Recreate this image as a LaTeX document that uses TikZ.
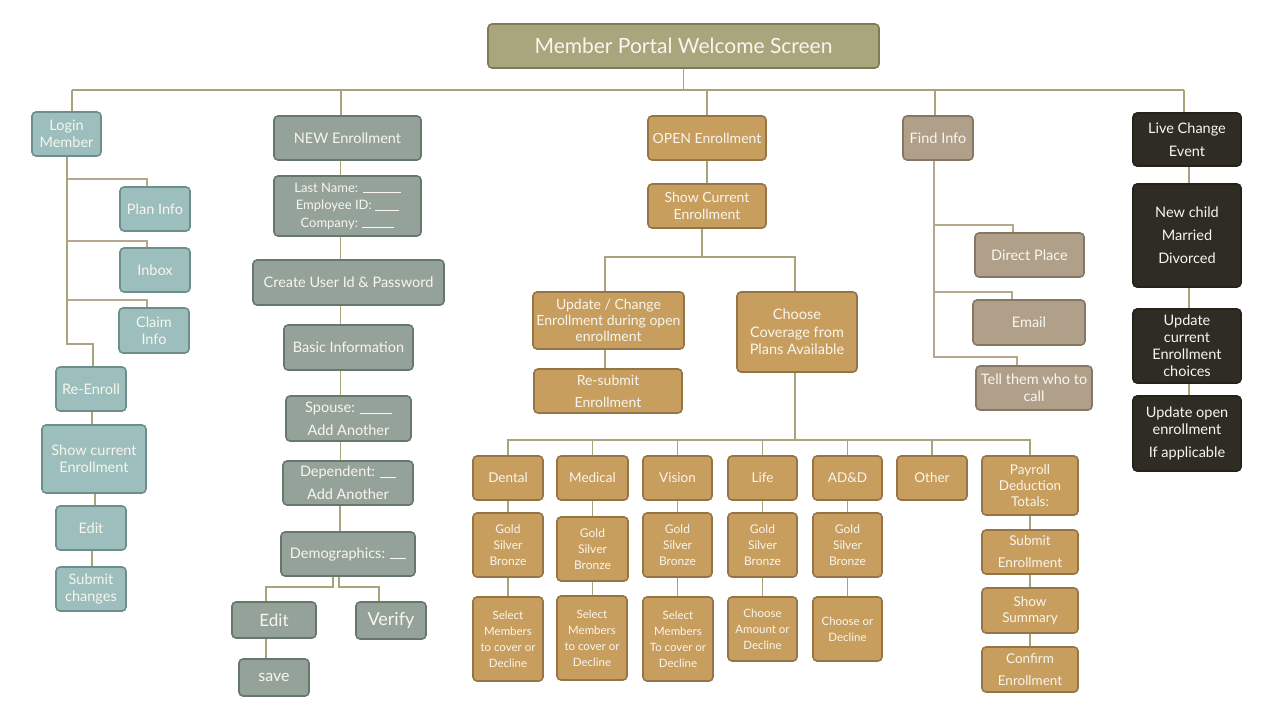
\documentclass[tikz,border=0pt]{standalone}
\usepackage{fontspec}
\setmainfont{Lato}
\definecolor{tealF}{HTML}{9CBEBC}\definecolor{tealD}{HTML}{6E8E8B}
\definecolor{sageF}{HTML}{94A299}\definecolor{sageD}{HTML}{68776E}
\definecolor{goldF}{HTML}{C89E5E}\definecolor{goldD}{HTML}{957547}
\definecolor{taupeF}{HTML}{B0A08A}\definecolor{taupeD}{HTML}{857763}
\definecolor{darkF}{HTML}{2F2C23}\definecolor{darkD}{HTML}{24221A}
\definecolor{oliveF}{HTML}{A9A57C}\definecolor{oliveD}{HTML}{7F7B58}
\definecolor{lineC}{HTML}{A9A37B}\definecolor{branchC}{HTML}{B6A88C}
\definecolor{txtC}{HTML}{F8F6EE}
\newcommand\fs[2]{\fontsize{#1}{#2}\selectfont}
\newcommand\blank[1]{\rule[-1.2pt]{#1}{0.8pt}}
\newcommand\bx[7]{\node[#1, minimum width={(#5-#3)*1pt}, minimum height={(#6-#4)*1pt}] (#2) at ({(#3+#5)/2},{(#4+#6)/2}) {#7};}
\tikzset{
  boxbase/.style={rounded corners=4pt, line width=1.6pt, align=center, text=txtC, inner sep=1pt, font=\fs{14.5}{17}},
  tealbox/.style={boxbase, fill=tealF, draw=tealD},
  sagebox/.style={boxbase, fill=sageF, draw=sageD},
  goldbox/.style={boxbase, fill=goldF, draw=goldD},
  taupebox/.style={boxbase, fill=taupeF, draw=taupeD},
  darkbox/.style={boxbase, fill=darkF, draw=darkD},
  titlebox/.style={boxbase, fill=oliveF, draw=oliveD, font=\fs{21}{24}},
  conn/.style={draw=lineC, line width=1.6pt},
  branch/.style={draw=branchC, line width=1.6pt},
}
\begin{document}
\begin{tikzpicture}[x=1pt,y=-1pt]
\useasboundingbox[fill=white] (0,0) rectangle (1280,720);
% title
\bx{titlebox}{title}{488}{24}{879}{68}{Member Portal Welcome Screen}
% login column
\bx{tealbox}{login}{32}{112}{101}{156}{Login\\Member}
\bx{tealbox}{planinfo}{120}{187}{190}{231}{Plan Info}
\bx{tealbox}{inbox}{120}{248}{190}{292}{Inbox}
\bx{tealbox}{claim}{119}{308}{189}{353}{Claim\\Info}
\bx{tealbox}{reenroll}{56}{367}{126}{411}{Re-Enroll}
\bx{tealbox}{showcur}{42}{425}{146}{493}{Show current\\Enrollment}
\bx{tealbox}{ledit}{56}{506}{126}{550}{Edit}
\bx{tealbox}{submitch}{56}{567}{126}{611}{Submit\\changes}
% new enrollment column
\bx{sagebox}{newenr}{274}{116}{421}{160}{NEW Enrollment}
\bx{sagebox,font=\fs{13}{17.5}}{lastname}{274}{176}{421}{236}{Last Name: \blank{38pt}\\Employee ID: \blank{24pt}\\Company: \blank{32pt}}
\bx{sagebox}{createuser}{253}{260}{444}{305}{Create User Id \& Password}
\bx{sagebox}{basic}{284}{325}{413}{370}{Basic Information}
\bx{sagebox}{spouse}{286}{396}{411}{441}{Spouse: \blank{32pt}\\[6pt]Add Another}
\bx{sagebox}{dependent}{283}{461}{413}{505}{Dependent: \blank{16pt}\\[6pt]Add Another}
\bx{sagebox}{demo}{281}{532}{415}{576}{Demographics: \blank{16pt}}
\bx{sagebox,font=\fs{17}{20}}{nedit}{232}{602}{316}{638}{Edit}
\bx{sagebox,font=\fs{18}{20}}{verify}{356}{602}{426}{639}{Verify}
\bx{sagebox,font=\fs{16}{19}}{save}{239}{659}{309}{696}{save}
% open enrollment
\bx{goldbox,font=\fs{14}{17}}{open}{648}{116}{766}{160}{OPEN Enrollment}
\bx{goldbox,font=\fs{14}{17}}{showce}{648}{184}{766}{228}{Show Current\\Enrollment}
\bx{goldbox,font=\fs{14}{16}}{update}{533}{292}{684}{349}{Update / Change\\Enrollment during open\\enrollment}
\bx{goldbox,font=\fs{14}{16}}{resubmit}{534}{369}{682}{413}{Re-submit\\[6pt]Enrollment}
\bx{goldbox,font=\fs{14.5}{17.5}}{choose}{737}{292}{857}{372}{Choose\\Coverage from\\Plans Available}
% products
\bx{goldbox,font=\fs{13.5}{16}}{dental}{473}{456}{543}{500}{Dental}
\bx{goldbox,font=\fs{13.5}{16}}{medical}{557}{456}{628}{500}{Medical}
\bx{goldbox,font=\fs{13.5}{16}}{vision}{643}{456}{712}{500}{Vision}
\bx{goldbox,font=\fs{13.5}{16}}{life}{728}{456}{797}{500}{Life}
\bx{goldbox,font=\fs{13.5}{16}}{add}{813}{456}{882}{500}{AD\&D}
\bx{goldbox,font=\fs{13.5}{16}}{other}{897}{456}{967}{500}{Other}
\bx{goldbox,font=\fs{13.5}{16}}{payroll}{982}{456}{1078}{515}{Payroll\\Deduction\\Totals:}
\bx{goldbox,font=\fs{13.5}{16}}{submitenr}{982}{530}{1078}{574}{Submit\\[6pt]Enrollment}
\bx{goldbox,font=\fs{13.5}{16}}{showsum}{982}{588}{1078}{633}{Show\\Summary}
\bx{goldbox,font=\fs{13.5}{16}}{confirm}{982}{647}{1078}{692}{Confirm\\[6pt]Enrollment}
\bx{goldbox,font=\fs{12}{16}}{dgold}{473}{513}{543}{577}{Gold\\Silver\\Bronze}
\bx{goldbox,font=\fs{12}{16}}{mgold}{557}{517}{628}{581}{Gold\\Silver\\Bronze}
\bx{goldbox,font=\fs{12}{16}}{vgold}{643}{513}{712}{577}{Gold\\Silver\\Bronze}
\bx{goldbox,font=\fs{12}{16}}{lgold}{728}{513}{797}{577}{Gold\\Silver\\Bronze}
\bx{goldbox,font=\fs{12}{16}}{agold}{813}{513}{882}{577}{Gold\\Silver\\Bronze}
\bx{goldbox,font=\fs{11.5}{16}}{dsel}{473}{597}{543}{681}{Select\\Members\\to cover or\\Decline}
\bx{goldbox,font=\fs{11.5}{16}}{msel}{557}{596}{627}{680}{Select\\Members\\to cover or\\Decline}
\bx{goldbox,font=\fs{11.5}{16}}{vsel}{643}{597}{713}{681}{Select\\Members\\To cover or\\Decline}
\bx{goldbox,font=\fs{11.5}{16}}{lch}{728}{597}{797}{661}{Choose\\Amount or\\Decline}
\bx{goldbox,font=\fs{11.5}{16}}{ach}{813}{597}{882}{661}{Choose or\\Decline}
% find info
\bx{taupebox}{find}{903}{116}{973}{160}{Find Info}
\bx{taupebox}{direct}{975}{233}{1084}{277}{Direct Place}
\bx{taupebox}{email}{973}{300}{1085}{345}{Email}
\bx{taupebox}{tell}{976}{366}{1092}{410}{Tell them who to\\call}
% live change
\bx{darkbox}{live}{1133}{113}{1241}{166}{Live Change\\[6pt]Event}
\bx{darkbox}{newchild}{1133}{184}{1241}{287}{New child\\[6pt]Married\\[6pt]Divorced}
\bx{darkbox}{updcur}{1133}{309}{1241}{383}{Update\\current\\Enrollment\\choices}
\bx{darkbox}{updopen}{1133}{396}{1241}{471}{Update open\\enrollment\\[6pt]If applicable}
% ---------- connectors ----------
\coordinate (bus) at (0,90);
\draw[conn] (title.south) -- (title.south |- bus);
\draw[conn] ([xshift=5.5pt]login.north |- bus) -- ([xshift=-3pt]live.north |- bus);
\draw[conn] ([xshift=5.5pt]login.north) -- ([xshift=5.5pt]login.north |- bus);
\draw[conn] ([xshift=-6.5pt]newenr.north) -- ([xshift=-6.5pt]newenr.north |- bus);
\draw[conn] (open.north) -- (open.north |- bus);
\draw[conn] ([xshift=-3pt]find.north) -- ([xshift=-3pt]find.north |- bus);
\draw[conn] ([xshift=-3pt]live.north) -- ([xshift=-3pt]live.north |- bus);
% login column
\draw[branch] ([xshift=0.5pt]login.south |- 0,179) -| ([xshift=-8pt]planinfo.north);
\draw[branch] ([xshift=0.5pt]login.south |- 0,241) -| ([xshift=-8pt]inbox.north);
\draw[branch] ([xshift=0.5pt]login.south |- 0,300) -| ([xshift=-7pt]claim.north);
\draw[conn] ([xshift=0.5pt]login.south) -- ([xshift=0.5pt]login.south |- 0,344) -| ([xshift=2pt]reenroll.north);
\draw[conn] ([xshift=1pt]reenroll.south) -- ([xshift=1pt]reenroll.south |- showcur.north);
\draw[conn] ([xshift=1pt]showcur.south) -- ([xshift=1pt]showcur.south |- ledit.north);
\draw[conn] ([xshift=1pt]ledit.south) -- ([xshift=1pt]ledit.south |- submitch.north);
% new enrollment column
\draw[conn] ([xshift=-7pt]newenr.south) -- ([xshift=-7pt]newenr.south |- lastname.north);
\draw[conn] ([xshift=-7pt]lastname.south) -- ([xshift=-7pt]lastname.south |- createuser.north);
\draw[conn] ([xshift=-8pt]createuser.south) -- ([xshift=-8pt]createuser.south |- basic.north);
\draw[conn] ([xshift=-8pt]basic.south) -- ([xshift=-8pt]basic.south |- spouse.north);
\draw[conn] ([xshift=-8pt]spouse.south) -- ([xshift=-8pt]spouse.south |- dependent.north);
\draw[conn] ([xshift=-8pt]dependent.south) -- ([xshift=-8pt]dependent.south |- demo.north);
\draw[conn] ([xshift=-15pt]demo.south) -- ([xshift=-15pt]demo.south |- 0,587) -| ([xshift=-8pt]nedit.north);
\draw[conn] ([xshift=-9pt]demo.south) -- ([xshift=-9pt]demo.south |- 0,587) -| ([xshift=-12pt]verify.north);
\draw[conn] ([xshift=-8pt]nedit.south) -- ([xshift=-8pt]nedit.south |- save.north);
% open enrollment
\draw[conn] (open.south) -- (open.south |- showce.north);
\draw[conn] ([xshift=-5pt]showce.south) -- ([xshift=-5pt]showce.south |- 0,257) coordinate (ob);
\draw[conn] ([xshift=-3.5pt]update.north) -- ([xshift=-3.5pt]update.north |- ob) -| ([xshift=-2pt]choose.north);
\draw[conn] ([xshift=-3.5pt]update.south) -- ([xshift=-3.5pt]update.south |- resubmit.north);
\draw[conn] ([xshift=-2pt]choose.south) -- ([xshift=-2pt]choose.south |- 0,440) coordinate (pb);
\draw[conn] (dental.north) -- (dental.north |- pb) -| (payroll.north);
\foreach \n in {medical,vision,life,add,other}{\draw[conn] (\n.north) -- (\n.north |- pb);}
\foreach \a/\b in {dental/dgold,medical/mgold,vision/vgold,life/lgold,add/agold,dgold/dsel,mgold/msel,vgold/vsel,lgold/lch,agold/ach,payroll/submitenr,submitenr/showsum,showsum/confirm}{\draw[conn] (\a.south) -- (\a.south |- \b.north);}
% find info
\draw[branch] ([xshift=-4pt]find.south) -- ([xshift=-4pt]find.south |- 0,357) -| ([xshift=-17pt]tell.north);
\draw[branch] ([xshift=-4pt]find.south |- 0,225) -| ([xshift=-16.5pt]direct.north);
\draw[branch] ([xshift=-4pt]find.south |- 0,292) -| ([xshift=-17pt]email.north);
% live change
\draw[conn] ([xshift=2pt]live.south) -- ([xshift=2pt]live.south |- newchild.north);
\draw[conn] ([xshift=2pt]newchild.south) -- ([xshift=2pt]newchild.south |- updcur.north);
\draw[conn] ([xshift=2pt]updcur.south) -- ([xshift=2pt]updcur.south |- updopen.north);
\end{tikzpicture}
\end{document}
